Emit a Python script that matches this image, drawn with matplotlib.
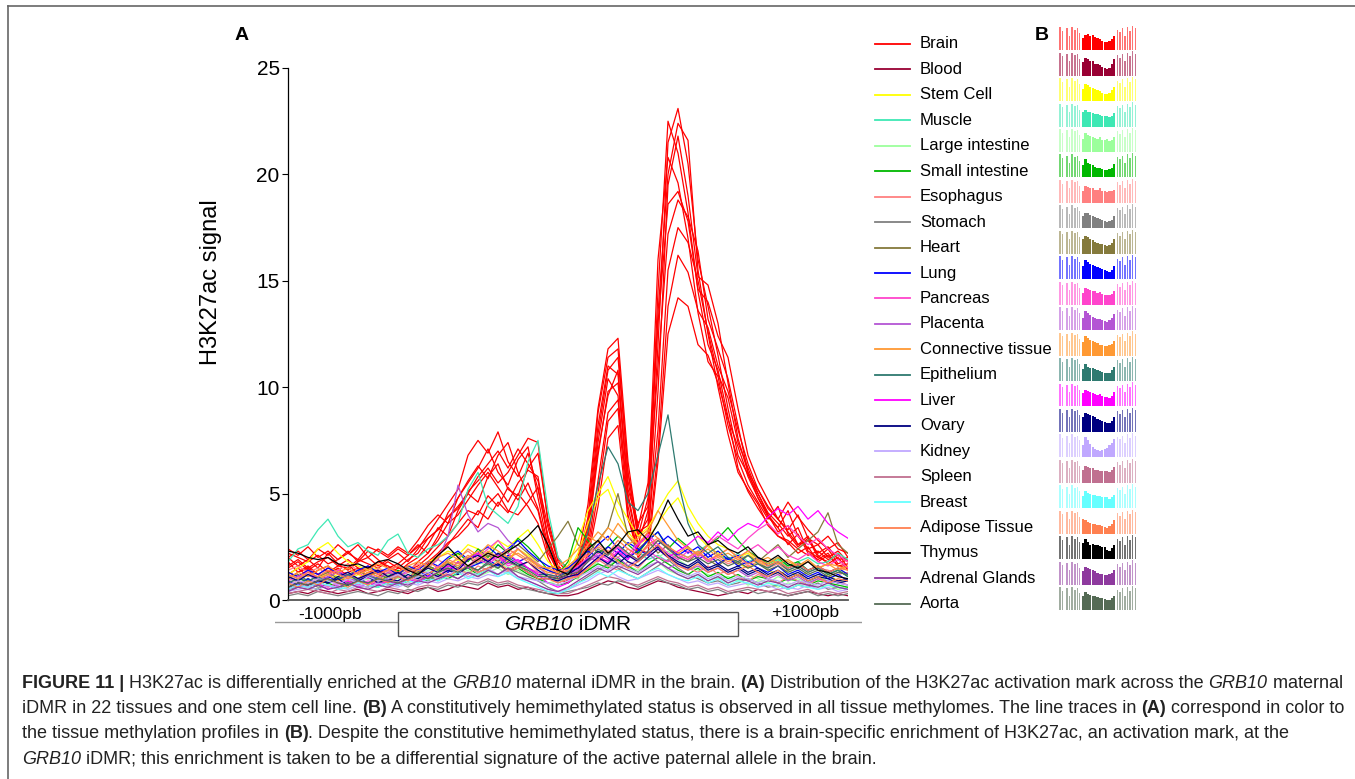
import numpy as np
import matplotlib
matplotlib.use("Agg")
import matplotlib.pyplot as plt
from matplotlib.patches import Rectangle

plt.rcParams['font.family'] = ['Liberation Sans', 'DejaVu Sans']

# ---- H3K27ac traces, one value every 50 bp from -1400 to +1400 ----
positions = np.arange(-1400, 1401, 50)

brain_1 = [2.2, 2.0, 1.8, 2.1, 1.7, 1.9, 2.3, 1.8, 2.0, 1.6,
           1.9, 2.2, 1.8, 2.4, 3.1, 3.8, 4.5, 5.2, 6.8, 7.5,
           6.9, 7.9, 6.5, 5.8, 6.9, 5.2, 3.0, 1.6, 1.2, 2.0,
           4.5, 9.0, 11.8, 12.3, 6.5, 3.2, 3.5, 12.0, 21.5, 23.1,
           20.5, 16.0, 13.8, 11.5, 9.0, 6.8, 5.9, 5.0, 4.0, 3.2,
           3.5, 2.6, 2.8, 2.2, 2.5, 1.9, 2.0]
brain_2 = [2.0, 1.6, 1.9, 1.5, 2.2, 1.7, 1.4, 1.8, 2.3, 1.9,
           1.5, 1.7, 2.1, 2.6, 2.2, 3.0, 4.1, 4.8, 5.5, 6.2,
           7.1, 6.0, 5.4, 6.6, 7.2, 4.8, 2.5, 1.3, 0.9, 1.8,
           3.6, 8.2, 11.0, 10.6, 5.0, 2.6, 4.2, 14.5, 22.5, 21.0,
           18.2, 14.5, 12.0, 10.8, 8.6, 6.2, 5.1, 4.3, 3.6, 3.0,
           2.7, 2.2, 2.5, 1.8, 2.1, 1.6, 1.7]
brain_3 = [1.5, 1.8, 1.4, 1.7, 1.3, 1.6, 1.9, 1.5, 1.4, 1.8,
           1.6, 1.3, 1.7, 2.0, 2.6, 3.4, 3.0, 4.2, 5.0, 4.6,
           5.8, 6.4, 5.2, 4.9, 6.2, 6.9, 3.8, 2.0, 1.4, 1.1,
           2.8, 7.4, 10.4, 9.6, 4.4, 2.2, 2.9, 9.8, 19.5, 21.8,
           19.0, 15.2, 14.8, 13.0, 10.2, 7.6, 6.0, 4.8, 3.9, 3.4,
           4.2, 3.0, 2.4, 2.6, 2.0, 2.3, 1.8]
brain_4 = [1.8, 1.3, 1.6, 1.2, 1.5, 1.4, 1.7, 1.2, 1.5, 1.3,
           1.4, 1.6, 1.3, 1.8, 2.2, 2.8, 3.6, 4.0, 4.7, 5.4,
           6.0, 5.3, 4.6, 5.5, 6.1, 5.8, 2.8, 1.5, 1.0, 1.4,
           3.0, 6.8, 9.8, 10.2, 5.6, 3.0, 4.8, 16.0, 20.8, 19.6,
           17.0, 13.5, 11.2, 10.5, 8.2, 6.6, 5.4, 4.6, 3.8, 4.4,
           3.1, 2.5, 2.9, 2.0, 1.8, 2.2, 1.5]
brain_5 = [1.2, 1.5, 1.1, 1.4, 1.6, 1.2, 1.3, 1.5, 1.1, 1.4,
           1.2, 1.5, 1.4, 1.6, 2.0, 2.5, 3.0, 3.6, 4.2, 4.0,
           4.9, 4.4, 5.3, 4.7, 5.5, 4.3, 2.4, 1.2, 0.9, 1.3,
           2.5, 5.6, 8.8, 9.4, 4.8, 2.5, 3.2, 8.0, 15.5, 17.5,
           16.8, 15.0, 12.6, 10.6, 9.5, 7.4, 6.2, 5.0, 4.1, 3.6,
           3.0, 3.4, 2.3, 2.0, 2.4, 1.7, 1.9]
brain_6 = [1.0, 1.3, 1.5, 1.2, 1.0, 1.4, 1.1, 1.3, 1.6, 1.2,
           1.0, 1.3, 1.5, 1.2, 1.7, 2.1, 2.6, 3.2, 3.8, 3.4,
           4.5, 5.0, 4.2, 4.0, 4.6, 5.3, 2.9, 1.6, 1.1, 1.0,
           2.2, 5.0, 8.4, 9.0, 4.0, 2.0, 2.6, 7.0, 13.8, 16.2,
           15.4, 13.6, 12.8, 11.0, 9.8, 8.0, 6.4, 5.2, 4.4, 3.8,
           3.2, 2.6, 3.0, 2.1, 1.7, 2.0, 1.4]
brain_7 = [2.4, 2.1, 2.5, 2.0, 2.3, 1.9, 2.2, 2.6, 2.0, 2.4,
           2.1, 2.5, 2.2, 2.8, 3.5, 4.0, 3.6, 4.8, 5.6, 6.3,
           5.7, 6.8, 7.4, 6.0, 5.0, 4.2, 2.2, 1.4, 1.2, 1.6,
           3.2, 7.8, 10.8, 11.4, 6.0, 3.4, 5.5, 13.0, 18.6, 19.2,
           17.8, 14.6, 14.0, 12.4, 11.4, 9.0, 6.8, 5.6, 4.7, 3.8,
           3.3, 4.0, 2.9, 2.6, 3.0, 2.4, 2.2]
brain_8 = [1.6, 1.9, 1.5, 1.8, 2.0, 1.6, 1.5, 1.9, 1.7, 1.5,
           1.8, 1.5, 1.9, 2.2, 2.9, 3.3, 3.9, 4.4, 5.0, 5.8,
           6.4, 7.0, 6.2, 7.1, 6.4, 5.6, 3.4, 1.8, 1.3, 1.7,
           3.9, 8.8, 11.4, 11.8, 6.0, 3.0, 3.8, 13.5, 20.0, 22.4,
           21.6, 15.5, 12.5, 10.0, 7.8, 6.0, 5.2, 4.5, 3.5, 3.0,
           2.8, 2.4, 2.1, 2.3, 1.9, 2.1, 1.8]
brain_9 = [1.3, 1.1, 1.4, 1.0, 1.2, 1.5, 1.1, 1.0, 1.3, 1.4,
           1.1, 1.3, 1.0, 1.5, 1.8, 2.2, 2.7, 3.0, 3.5, 4.2,
           3.8, 4.6, 4.1, 5.0, 4.4, 3.6, 2.0, 1.0, 0.8, 1.2,
           2.0, 4.4, 7.6, 8.2, 3.8, 2.4, 2.2, 6.5, 12.5, 14.2,
           13.8, 12.0, 11.5, 10.2, 8.5, 7.2, 5.8, 4.8, 4.0, 3.4,
           2.6, 3.1, 2.2, 1.9, 2.2, 1.6, 1.5]
brain_10 = [2.0, 2.3, 1.9, 2.4, 2.1, 2.6, 2.2, 1.9, 2.5, 2.3,
            2.0, 2.4, 2.1, 2.5, 2.9, 3.3, 3.9, 4.3, 5.1, 5.6,
            6.2, 5.5, 6.0, 6.8, 7.6, 7.4, 3.6, 1.9, 1.5, 1.9,
            3.4, 7.0, 9.6, 10.8, 5.2, 3.6, 4.4, 11.0, 17.2, 18.8,
            18.0, 16.4, 13.2, 11.8, 10.4, 8.2, 6.0, 5.2, 4.3, 3.8,
            4.6, 3.9, 3.3, 2.8, 2.4, 2.7, 2.0]

blood = [0.3, 0.4, 0.3, 0.5, 0.4, 0.3, 0.4, 0.5, 0.3, 0.4,
         0.5, 0.4, 0.3, 0.5, 0.6, 0.4, 0.5, 0.7, 0.6, 0.5,
         0.8, 0.6, 0.7, 0.5, 0.6, 0.4, 0.3, 0.2, 0.2, 0.3,
         0.5, 0.7, 0.9, 0.8, 0.6, 0.5, 0.7, 0.9, 0.8, 0.6,
         0.5, 0.4, 0.3, 0.2, 0.3, 0.4, 0.3, 0.5, 0.4, 0.3,
         0.2, 0.3, 0.4, 0.3, 0.2, 0.3, 0.2]
stem_cell_1 = [1.2, 1.5, 1.8, 2.4, 2.7, 2.2, 1.8, 1.6, 1.4, 1.5,
               1.3, 1.2, 1.6, 1.4, 1.8, 2.0, 2.3, 2.1, 2.6, 2.4,
               2.2, 2.8, 2.5, 2.9, 3.3, 2.6, 1.8, 1.4, 1.6, 2.8,
               4.2, 5.0, 5.8, 4.6, 3.8, 3.0, 3.4, 4.2, 5.0, 5.6,
               4.4, 3.6, 3.0, 2.6, 2.4, 2.0, 2.2, 1.8, 1.6, 1.9,
               1.5, 1.7, 1.4, 1.6, 1.3, 1.5, 1.2]
stem_cell_2 = [0.8, 1.0, 1.2, 1.0, 1.3, 1.1, 0.9, 1.2, 1.0, 1.1,
               0.9, 1.2, 1.0, 1.3, 1.5, 1.4, 1.7, 1.9, 1.6, 2.0,
               1.8, 2.2, 1.9, 2.4, 2.1, 1.7, 1.2, 0.9, 1.3, 2.2,
               3.6, 4.8, 5.2, 4.0, 3.2, 2.6, 2.9, 3.6, 4.3, 4.8,
               3.8, 3.0, 2.5, 2.2, 1.9, 1.7, 1.5, 1.8, 1.4, 1.2,
               1.4, 1.1, 1.3, 1.0, 1.2, 0.9, 1.0]
muscle = [1.8, 2.4, 2.6, 3.3, 3.8, 3.0, 2.5, 2.7, 2.3, 2.1,
          2.8, 3.1, 2.2, 2.0, 2.4, 2.6, 3.0, 3.6, 5.2, 6.0,
          4.4, 4.0, 3.6, 4.4, 6.5, 7.5, 4.2, 2.0, 1.4, 1.8,
          2.4, 2.8, 2.2, 2.6, 2.0, 2.3, 1.9, 2.1, 1.8, 2.2,
          2.0, 2.3, 2.6, 2.1, 1.9, 2.2, 1.8, 2.0, 1.7, 1.9,
          1.6, 1.8, 2.0, 1.7, 1.8, 2.2, 1.9]
large_intestine = [0.9, 1.1, 0.8, 1.0, 1.2, 0.9, 1.1, 0.8, 1.0, 0.9,
                   1.2, 1.0, 1.3, 1.1, 1.4, 1.2, 1.6, 1.3, 1.5, 1.8,
                   1.6, 1.9, 1.5, 1.7, 1.4, 1.2, 1.1, 0.9, 1.0, 1.0,
                   1.4, 1.8, 2.2, 1.9, 1.6, 1.4, 1.7, 2.0, 2.3, 1.9,
                   1.6, 1.4, 1.2, 1.0, 1.1, 0.9, 1.2, 1.0, 0.8, 1.1,
                   0.9, 1.0, 0.8, 1.1, 0.9, 0.8, 1.0]
large_intestine_2 = [0.4, 0.6, 0.5, 0.7, 0.6, 0.8, 0.5, 0.7, 0.6, 0.8,
                     0.7, 0.9, 0.8, 1.0, 0.9, 1.1, 1.0, 1.2, 1.4, 1.1,
                     1.3, 1.5, 1.2, 1.4, 1.1, 0.9, 0.8, 0.9, 1.0, 1.2,
                     1.5, 1.3, 1.6, 1.9, 1.5, 1.3, 1.6, 1.8, 1.4, 1.2,
                     1.0, 1.2, 0.9, 1.1, 0.8, 1.0, 0.7, 0.9, 0.8, 0.6,
                     0.8, 0.7, 0.9, 0.6, 0.7, 0.5, 0.6]
small_intestine = [0.6, 0.8, 1.0, 0.7, 0.9, 1.1, 0.8, 1.0, 1.2, 0.9,
                   1.1, 1.4, 1.0, 1.3, 1.6, 1.4, 1.9, 2.2, 1.8, 2.4,
                   2.0, 2.6, 2.2, 2.9, 2.5, 2.0, 1.4, 1.2, 1.8, 3.4,
                   2.8, 2.2, 2.5, 3.0, 2.6, 2.2, 2.8, 3.2, 2.4, 2.9,
                   2.5, 2.1, 2.6, 2.9, 3.4, 2.8, 2.3, 2.0, 1.7, 2.0,
                   1.6, 1.8, 1.4, 1.6, 1.2, 1.4, 1.1]
small_intestine_2 = [0.5, 0.7, 0.6, 0.5, 0.8, 0.6, 0.7, 0.9, 0.7, 0.6,
                     0.8, 0.7, 0.9, 1.1, 0.9, 1.2, 1.0, 1.3, 1.5, 1.2,
                     1.4, 1.7, 1.3, 1.5, 1.2, 1.0, 0.8, 0.7, 0.8, 1.1,
                     1.4, 1.7, 1.5, 1.9, 1.6, 1.3, 1.7, 2.0, 1.7, 1.4,
                     1.2, 1.5, 1.1, 1.3, 1.0, 1.2, 0.9, 1.1, 1.0, 0.8,
                     1.0, 0.9, 0.7, 0.9, 0.8, 0.7, 0.6]
esophagus = [0.7, 0.9, 0.6, 0.8, 1.0, 0.7, 0.9, 0.6, 0.8, 1.0,
             0.8, 0.7, 1.0, 0.9, 1.2, 1.0, 1.3, 1.5, 1.2, 1.6,
             1.4, 1.7, 1.3, 1.5, 1.8, 1.3, 1.2, 1.0, 1.1, 1.1,
             1.5, 1.9, 1.6, 1.4, 1.8, 1.5, 2.0, 2.4, 2.1, 1.7,
             1.5, 1.3, 1.6, 1.2, 1.4, 1.1, 0.9, 1.2, 1.0, 0.8,
             1.1, 0.9, 0.7, 1.0, 0.8, 0.9, 0.7]
esophagus_2 = [1.4, 1.6, 1.3, 1.5, 1.2, 1.4, 1.7, 1.4, 1.2, 1.5,
               1.3, 1.6, 1.4, 1.7, 1.5, 1.9, 1.6, 2.0, 2.3, 1.9,
               2.2, 1.8, 2.1, 2.4, 2.0, 1.7, 1.4, 1.3, 1.5, 1.8,
               2.2, 2.6, 2.3, 2.0, 2.4, 2.1, 2.5, 2.8, 2.4, 2.1,
               1.9, 2.2, 1.8, 2.0, 1.7, 1.9, 1.6, 1.8, 1.5, 1.7,
               1.4, 1.6, 1.3, 1.5, 1.4, 1.2, 1.3]
stomach = [0.5, 0.6, 0.8, 0.6, 0.7, 0.5, 0.8, 0.7, 0.6, 0.9,
           0.7, 0.8, 0.6, 0.9, 1.1, 0.9, 1.2, 1.0, 1.3, 1.1,
           1.4, 1.2, 1.5, 1.3, 1.1, 0.9, 0.6, 0.4, 0.5, 0.8,
           1.1, 1.4, 1.7, 1.5, 1.2, 1.0, 1.3, 1.6, 1.9, 1.5,
           1.2, 1.0, 0.8, 0.9, 0.7, 0.8, 1.0, 0.8, 0.6, 0.7,
           0.5, 0.7, 0.6, 0.8, 0.5, 0.6, 0.5]
stomach_2 = [0.2, 0.3, 0.2, 0.4, 0.3, 0.2, 0.3, 0.4, 0.3, 0.2,
             0.4, 0.3, 0.5, 0.4, 0.6, 0.5, 0.7, 0.6, 0.8, 0.7,
             0.9, 0.7, 0.8, 0.6, 0.5, 0.4, 0.3, 0.3, 0.4, 0.5,
             0.6, 0.8, 0.7, 0.9, 0.8, 0.6, 0.8, 1.0, 0.8, 0.7,
             0.5, 0.6, 0.4, 0.5, 0.3, 0.4, 0.5, 0.3, 0.4, 0.3,
             0.2, 0.3, 0.4, 0.2, 0.3, 0.2, 0.3]
heart = [1.0, 1.2, 0.9, 1.1, 1.3, 1.0, 1.2, 1.4, 1.1, 1.3,
         1.0, 1.2, 1.5, 1.3, 1.6, 1.4, 1.8, 1.5, 2.0, 1.7,
         2.1, 1.8, 2.3, 2.6, 2.2, 1.8, 2.4, 3.0, 3.7, 2.6,
         2.2, 2.8, 3.4, 5.0, 3.0, 2.4, 2.8, 2.2, 2.6, 2.0,
         1.8, 2.2, 1.9, 1.6, 2.0, 1.7, 2.1, 1.8, 2.2, 2.6,
         2.0, 2.4, 2.8, 3.2, 4.1, 2.6, 2.2]
lung = [0.9, 0.7, 1.0, 0.8, 1.1, 0.9, 1.2, 1.0, 0.8, 1.1,
        0.9, 1.2, 1.0, 1.4, 1.1, 1.6, 1.3, 1.8, 1.5, 1.7,
        1.9, 1.6, 2.1, 1.8, 2.0, 1.6, 1.4, 1.2, 1.3, 1.5,
        2.0, 2.6, 3.0, 2.4, 2.0, 2.3, 2.8, 3.2, 2.5, 2.1,
        2.4, 1.9, 2.2, 1.7, 2.0, 1.6, 1.8, 1.5, 1.3, 1.6,
        1.2, 1.4, 1.1, 1.3, 1.0, 1.2, 0.9]
lung_2 = [1.3, 1.1, 1.4, 1.2, 1.5, 1.3, 1.1, 1.4, 1.6, 1.3,
          1.5, 1.2, 1.6, 1.4, 1.8, 1.6, 2.0, 2.3, 1.9, 2.2,
          2.5, 2.1, 2.4, 2.8, 2.3, 1.9, 1.6, 1.4, 1.5, 1.9,
          2.3, 2.0, 2.5, 2.2, 2.7, 2.4, 2.1, 2.6, 3.0, 2.6,
          2.2, 2.5, 2.0, 2.3, 1.9, 2.1, 1.7, 2.0, 1.6, 1.8,
          1.5, 1.7, 1.4, 1.6, 1.3, 1.5, 1.2]
pancreas = [0.6, 0.8, 0.7, 0.9, 0.6, 0.8, 1.0, 0.7, 0.9, 0.8,
            1.0, 0.8, 1.1, 0.9, 1.3, 1.1, 1.5, 1.2, 1.6, 2.0,
            2.4, 2.8, 2.2, 1.8, 1.5, 1.2, 1.0, 0.9, 1.2, 1.4,
            1.8, 2.2, 1.9, 2.5, 2.1, 2.7, 3.1, 2.6, 2.2, 1.9,
            2.3, 2.0, 2.6, 3.0, 2.7, 2.4, 2.9, 3.3, 3.6, 3.1,
            3.5, 3.0, 2.6, 2.9, 2.4, 2.1, 1.8]
pancreas_2 = [0.9, 1.1, 1.3, 1.0, 1.2, 1.4, 1.1, 1.3, 1.0, 1.2,
              1.4, 1.1, 1.3, 1.5, 1.2, 1.6, 1.4, 1.8, 1.5, 1.9,
              1.7, 2.0, 1.6, 1.8, 1.5, 1.3, 1.2, 1.1, 1.3, 1.6,
              2.0, 1.8, 2.2, 2.5, 2.1, 1.9, 2.3, 2.0, 1.8, 2.1,
              1.9, 2.2, 1.8, 2.1, 2.4, 2.0, 2.3, 2.6, 2.2, 2.5,
              2.1, 1.9, 2.2, 1.8, 1.6, 1.9, 1.5]
placenta = [0.8, 1.0, 1.2, 0.9, 1.1, 1.3, 1.0, 0.9, 1.2, 1.0,
            1.3, 1.1, 1.4, 1.2, 1.6, 1.9, 3.0, 5.4, 4.0, 3.2,
            3.6, 3.4, 2.8, 2.4, 2.0, 1.6, 1.1, 0.8, 1.0, 1.4,
            1.8, 2.1, 1.7, 2.0, 1.6, 1.9, 2.2, 1.8, 1.5, 1.7,
            1.4, 1.6, 1.3, 1.5, 1.2, 1.4, 1.1, 1.3, 1.0, 1.2,
            0.9, 1.1, 0.8, 1.0, 0.9, 0.8, 0.7]
connective_tissue = [0.7, 0.9, 0.8, 1.0, 1.2, 0.9, 1.1, 1.0, 1.3, 1.1,
                     0.9, 1.2, 1.0, 1.4, 1.2, 1.5, 1.8, 1.6, 2.0, 2.3,
                     1.9, 2.2, 1.8, 2.4, 2.0, 1.6, 1.5, 1.3, 1.6, 2.0,
                     2.6, 3.2, 2.8, 3.6, 3.0, 2.6, 3.2, 4.2, 3.5, 2.8,
                     2.4, 2.2, 2.6, 2.1, 2.4, 2.0, 2.3, 1.9, 1.7, 2.0,
                     1.8, 1.6, 1.9, 1.5, 1.7, 1.4, 1.6]
connective_tissue_2 = [1.0, 1.3, 1.1, 1.4, 1.6, 1.3, 1.5, 1.2, 1.4, 1.7,
                       1.5, 1.3, 1.6, 1.8, 1.6, 2.0, 2.2, 1.9, 2.4, 2.1,
                       2.6, 2.3, 2.0, 2.2, 1.9, 1.6, 1.5, 1.6, 1.9, 2.4,
                       3.0, 2.7, 3.4, 3.0, 2.6, 2.9, 3.3, 2.9, 2.5, 2.2,
                       2.5, 2.1, 2.4, 2.0, 2.2, 1.9, 2.1, 1.8, 2.0, 1.7,
                       1.9, 1.6, 1.8, 1.5, 1.7, 1.6, 1.4]
epithelium = [0.8, 1.0, 0.9, 1.1, 0.8, 1.0, 1.2, 0.9, 1.1, 1.0,
              0.8, 1.1, 0.9, 1.2, 1.0, 1.3, 1.5, 1.2, 1.6, 1.4,
              1.8, 1.5, 2.0, 1.7, 1.5, 1.2, 1.2, 1.1, 1.3, 1.8,
              3.2, 5.4, 7.2, 6.4, 4.6, 4.2, 5.0, 6.8, 8.7, 5.6,
              3.6, 2.6, 2.2, 2.5, 2.0, 1.8, 2.1, 1.7, 1.5, 1.8,
              1.4, 1.6, 1.3, 1.5, 1.2, 1.4, 1.1]
liver = [0.5, 0.7, 0.6, 0.8, 0.5, 0.7, 0.9, 0.6, 0.8, 0.7,
         0.9, 0.7, 1.0, 0.8, 1.1, 1.3, 1.6, 1.4, 1.9, 2.2,
         1.8, 2.1, 1.7, 1.9, 1.5, 1.2, 0.8, 0.6, 0.8, 1.2,
         1.6, 2.0, 1.8, 2.3, 1.9, 2.6, 3.0, 2.4, 2.0, 2.3,
         2.6, 3.0, 2.7, 3.2, 2.8, 3.3, 3.6, 3.4, 3.9, 4.3,
         4.0, 4.4, 3.8, 4.2, 3.6, 3.2, 2.9]
ovary = [0.6, 0.8, 0.7, 0.9, 0.8, 1.0, 0.7, 0.9, 1.1, 0.8,
         1.0, 0.9, 1.2, 1.0, 1.3, 1.1, 1.4, 1.2, 1.6, 1.3,
         1.5, 1.7, 1.4, 1.6, 1.3, 1.0, 1.0, 0.9, 1.1, 1.2,
         1.6, 2.0, 1.7, 2.2, 1.8, 1.6, 2.0, 2.4, 2.0, 1.7,
         1.5, 1.8, 1.4, 1.6, 1.3, 1.5, 1.2, 1.4, 1.1, 1.3,
         1.0, 1.2, 0.9, 1.1, 1.0, 0.8, 0.9]
ovary_2 = [1.1, 0.9, 1.2, 1.0, 0.8, 1.1, 1.3, 1.0, 1.2, 1.4,
           1.1, 1.3, 1.0, 1.2, 1.5, 1.3, 1.7, 1.4, 1.9, 2.1,
           1.8, 2.2, 1.9, 1.6, 1.8, 1.4, 1.1, 1.0, 1.2, 1.5,
           1.9, 2.3, 2.0, 1.7, 2.1, 1.8, 2.2, 2.5, 2.1, 1.8,
           1.6, 1.9, 1.5, 1.7, 1.4, 1.6, 1.3, 1.5, 1.2, 1.4,
           1.1, 1.3, 1.0, 1.2, 1.1, 0.9, 1.0]
kidney = [0.4, 0.5, 0.6, 0.5, 0.7, 0.6, 0.5, 0.7, 0.6, 0.8,
          0.7, 0.6, 0.8, 0.7, 0.9, 0.8, 1.0, 0.9, 1.1, 1.0,
          1.2, 1.1, 1.3, 1.0, 0.9, 0.7, 0.5, 0.4, 0.5, 0.7,
          0.9, 1.2, 1.4, 1.1, 0.9, 1.0, 1.2, 1.4, 1.2, 1.0,
          0.8, 0.9, 0.7, 0.8, 0.6, 0.7, 0.8, 0.6, 0.7, 0.5,
          0.6, 0.5, 0.7, 0.5, 0.6, 0.4, 0.5]
kidney_2 = [0.7, 0.9, 0.8, 1.0, 0.9, 0.7, 1.0, 0.8, 1.1, 0.9,
            1.0, 1.2, 0.9, 1.1, 1.3, 1.0, 1.2, 1.4, 1.1, 1.3,
            1.5, 1.2, 1.4, 1.1, 1.0, 0.9, 0.8, 0.7, 0.9, 1.1,
            1.3, 1.6, 1.4, 1.7, 1.5, 1.3, 1.6, 1.8, 1.5, 1.3,
            1.1, 1.3, 1.0, 1.2, 0.9, 1.1, 1.0, 0.8, 1.0, 0.9,
            0.7, 0.9, 0.8, 0.7, 0.9, 0.8, 0.7]
spleen = [0.3, 0.4, 0.5, 0.4, 0.3, 0.5, 0.4, 0.6, 0.5, 0.4,
          0.6, 0.5, 0.4, 0.6, 0.7, 0.6, 0.8, 0.7, 0.9, 0.8,
          1.0, 0.8, 0.9, 0.7, 0.6, 0.5, 0.4, 0.3, 0.3, 0.5,
          0.7, 0.9, 1.1, 1.0, 0.8, 0.7, 0.9, 1.1, 0.9, 0.8,
          0.6, 0.7, 0.5, 0.6, 0.4, 0.5, 0.6, 0.5, 0.4, 0.5,
          0.3, 0.4, 0.5, 0.3, 0.4, 0.3, 0.4]
breast = [0.5, 0.7, 0.6, 0.8, 0.7, 0.5, 0.6, 0.8, 0.7, 0.6,
          0.8, 0.7, 0.9, 0.8, 1.0, 0.9, 1.1, 1.3, 1.0, 1.2,
          1.4, 1.1, 1.3, 1.0, 0.8, 0.6, 0.4, 0.3, 0.5, 0.8,
          1.0, 1.3, 1.1, 1.4, 1.2, 1.0, 1.3, 1.5, 1.2, 1.0,
          0.9, 1.1, 0.8, 1.0, 0.7, 0.9, 0.8, 0.6, 0.8, 0.7,
          0.5, 0.7, 0.6, 0.5, 0.7, 0.6, 0.5]
adipose_tissue = [0.8, 0.6, 0.9, 0.7, 1.0, 0.8, 0.6, 0.9, 0.7, 1.0,
                  0.8, 1.1, 0.9, 1.2, 1.0, 1.3, 1.1, 1.4, 1.6, 1.3,
                  1.5, 1.8, 1.4, 1.6, 1.3, 1.0, 1.0, 0.8, 1.0, 1.1,
                  1.5, 1.9, 2.3, 1.8, 1.5, 1.8, 2.2, 2.6, 2.0, 1.6,
                  1.4, 1.7, 1.3, 1.5, 1.2, 1.4, 1.6, 1.3, 1.1, 1.4,
                  1.0, 1.2, 0.9, 1.1, 0.8, 1.0, 0.9]
adipose_tissue_2 = [1.2, 1.0, 1.3, 1.1, 1.4, 1.2, 1.0, 1.3, 1.5, 1.2,
                    1.4, 1.6, 1.3, 1.5, 1.8, 1.5, 1.9, 1.7, 2.1, 1.8,
                    2.3, 2.0, 2.4, 2.1, 1.8, 1.5, 1.3, 1.2, 1.4, 1.8,
                    2.1, 2.5, 2.2, 2.8, 2.4, 2.1, 2.6, 2.9, 2.5, 2.2,
                    2.0, 2.3, 1.9, 2.1, 1.8, 2.0, 1.7, 1.9, 1.6, 1.8,
                    1.5, 1.7, 1.4, 1.6, 1.3, 1.5, 1.4]
thymus = [2.3, 2.2, 2.0, 1.9, 2.0, 1.7, 1.6, 1.7, 1.5, 1.8,
          1.9, 1.7, 1.4, 1.2, 1.6, 2.1, 2.5, 2.0, 1.6, 1.9,
          2.2, 2.0, 2.3, 2.6, 3.0, 3.5, 2.6, 1.4, 1.2, 1.8,
          2.4, 2.8, 2.2, 2.6, 3.2, 3.3, 2.8, 3.6, 4.7, 3.8,
          3.0, 3.2, 2.6, 2.8, 2.4, 2.2, 2.5, 2.0, 1.8, 2.1,
          1.7, 1.5, 1.8, 1.4, 1.3, 1.1, 1.0]
adrenal_glands = [0.4, 0.6, 0.5, 0.7, 0.5, 0.6, 0.8, 0.6, 0.5, 0.7,
                  0.6, 0.8, 0.7, 0.9, 0.8, 1.0, 1.2, 1.0, 1.3, 1.1,
                  1.4, 1.2, 1.5, 1.1, 0.9, 0.7, 0.5, 0.4, 0.6, 0.9,
                  1.2, 1.5, 1.3, 1.6, 1.4, 1.2, 1.5, 1.8, 1.5, 1.2,
                  1.0, 1.2, 0.9, 1.1, 0.8, 1.0, 0.9, 0.7, 0.9, 0.8,
                  0.6, 0.8, 0.7, 0.6, 0.8, 0.6, 0.5]
aorta = [0.6, 0.8, 0.7, 0.9, 1.0, 0.8, 0.7, 0.9, 0.8, 1.0,
         0.9, 0.8, 1.0, 1.2, 1.0, 1.3, 1.5, 1.3, 1.6, 1.4,
         1.7, 1.5, 1.8, 1.6, 1.4, 1.1, 1.1, 1.0, 1.2, 1.3,
         1.8, 2.4, 2.1, 2.6, 2.2, 1.9, 2.3, 2.8, 2.4, 2.0,
         1.8, 2.0, 1.7, 1.9, 1.6, 1.8, 1.5, 1.7, 1.4, 1.6,
         1.3, 1.5, 1.2, 1.4, 1.1, 1.3, 1.2]

tissues = ["Brain", "Blood", "Stem Cell", "Muscle", "Large intestine",
           "Small intestine", "Esophagus", "Stomach", "Heart", "Lung",
           "Pancreas", "Placenta", "Connective tissue", "Epithelium", "Liver",
           "Ovary", "Kidney", "Spleen", "Breast", "Adipose Tissue",
           "Thymus", "Adrenal Glands", "Aorta"]
colors = ["#ff0000", "#990033", "#ffff00", "#3ee8b4", "#9cff9c",
          "#00b800", "#ff8080", "#808080", "#857a3c", "#0000ff",
          "#ff44cc", "#b455d4", "#ff9933", "#2e7a70", "#ff00ff",
          "#000080", "#c0a8ff", "#c07090", "#66ffff", "#ff8050",
          "#000000", "#8e3a9e", "#556b55"]
tissue_color = dict(zip(tissues, colors))

brain_traces = [brain_1, brain_2, brain_3, brain_4, brain_5,
                brain_6, brain_7, brain_8, brain_9, brain_10]
other_traces = [("Blood", blood), ("Stem Cell", stem_cell_1), ("Stem Cell", stem_cell_2),
                ("Muscle", muscle), ("Large intestine", large_intestine),
                ("Large intestine", large_intestine_2),
                ("Small intestine", small_intestine), ("Small intestine", small_intestine_2),
                ("Esophagus", esophagus), ("Esophagus", esophagus_2),
                ("Stomach", stomach), ("Stomach", stomach_2), ("Heart", heart),
                ("Lung", lung), ("Lung", lung_2),
                ("Pancreas", pancreas), ("Pancreas", pancreas_2), ("Placenta", placenta),
                ("Connective tissue", connective_tissue),
                ("Connective tissue", connective_tissue_2), ("Epithelium", epithelium),
                ("Liver", liver), ("Ovary", ovary), ("Ovary", ovary_2),
                ("Kidney", kidney), ("Kidney", kidney_2),
                ("Spleen", spleen), ("Breast", breast),
                ("Adipose Tissue", adipose_tissue), ("Adipose Tissue", adipose_tissue_2),
                ("Adrenal Glands", adrenal_glands), ("Aorta", aorta), ("Thymus", thymus)]

# ---- methylation profiles (panel B) ----
flank_left_pos = [1.0, 3.5, 8.0, 10.2, 13.0, 16.0, 18.2, 20.6]
flank_left_h = [0.95, 0.8, 0.9, 0.6, 0.95, 0.85, 0.9, 0.7]
flank_right_pos = [58.8, 61.0, 63.5, 66.0, 68.2, 71.0, 73.6, 76.2]
flank_right_h = [0.85, 0.75, 0.9, 0.6, 0.95, 0.8, 1.0, 0.9]
mid_pos = [24.0, 26.4, 28.8, 31.2, 33.6, 36.0, 38.4, 40.8, 43.2, 45.6, 48.0, 50.4, 52.8, 55.2]
meth_profiles = {
    "Brain": [0.5, 0.62, 0.68, 0.6, 0.64, 0.55, 0.5, 0.45, 0.4, 0.35, 0.33, 0.38, 0.45, 0.6],
    "Blood": [0.55, 0.75, 0.7, 0.6, 0.62, 0.5, 0.48, 0.42, 0.35, 0.3, 0.28, 0.32, 0.5, 0.7],
    "Stem Cell": [0.5, 0.72, 0.65, 0.6, 0.55, 0.5, 0.45, 0.4, 0.35, 0.3, 0.3, 0.35, 0.45, 0.6],
    "Muscle": [0.6, 0.7, 0.62, 0.6, 0.55, 0.5, 0.52, 0.48, 0.45, 0.42, 0.44, 0.4, 0.45, 0.55],
    "Large intestine": [0.55, 0.8, 0.7, 0.65, 0.6, 0.58, 0.55, 0.6, 0.5, 0.48, 0.55, 0.45, 0.5, 0.6],
    "Small intestine": [0.5, 0.75, 0.6, 0.55, 0.5, 0.45, 0.4, 0.38, 0.35, 0.32, 0.3, 0.35, 0.4, 0.55],
    "Esophagus": [0.5, 0.7, 0.65, 0.6, 0.6, 0.55, 0.55, 0.6, 0.5, 0.5, 0.45, 0.48, 0.5, 0.55],
    "Stomach": [0.5, 0.65, 0.62, 0.55, 0.5, 0.45, 0.42, 0.4, 0.35, 0.3, 0.28, 0.3, 0.35, 0.5],
    "Heart": [0.6, 0.75, 0.7, 0.6, 0.55, 0.5, 0.45, 0.42, 0.4, 0.35, 0.33, 0.38, 0.45, 0.6],
    "Lung": [0.55, 0.8, 0.72, 0.65, 0.58, 0.55, 0.5, 0.48, 0.42, 0.38, 0.35, 0.3, 0.4, 0.55],
    "Pancreas": [0.5, 0.7, 0.65, 0.6, 0.55, 0.55, 0.5, 0.52, 0.45, 0.42, 0.4, 0.42, 0.45, 0.55],
    "Placenta": [0.5, 0.78, 0.7, 0.62, 0.55, 0.52, 0.48, 0.45, 0.4, 0.36, 0.35, 0.4, 0.5, 0.65],
    "Connective tissue": [0.55, 0.8, 0.72, 0.66, 0.6, 0.55, 0.5, 0.45, 0.42, 0.4, 0.38, 0.42, 0.48, 0.6],
    "Epithelium": [0.5, 0.7, 0.6, 0.55, 0.55, 0.5, 0.45, 0.4, 0.38, 0.35, 0.33, 0.35, 0.45, 0.6],
    "Liver": [0.55, 0.7, 0.62, 0.58, 0.55, 0.5, 0.48, 0.52, 0.45, 0.4, 0.38, 0.35, 0.45, 0.6],
    "Ovary": [0.6, 0.8, 0.75, 0.7, 0.65, 0.6, 0.55, 0.5, 0.45, 0.4, 0.38, 0.35, 0.45, 0.6],
    "Kidney": [0.5, 0.85, 0.7, 0.55, 0.45, 0.35, 0.3, 0.28, 0.3, 0.35, 0.4, 0.5, 0.6, 0.75],
    "Spleen": [0.55, 0.7, 0.65, 0.6, 0.6, 0.55, 0.55, 0.5, 0.5, 0.48, 0.5, 0.45, 0.55, 0.65],
    "Breast": [0.5, 0.72, 0.65, 0.6, 0.55, 0.55, 0.5, 0.5, 0.48, 0.45, 0.45, 0.4, 0.45, 0.55],
    "Adipose Tissue": [0.6, 0.55, 0.5, 0.45, 0.42, 0.4, 0.38, 0.35, 0.3, 0.28, 0.25, 0.3, 0.4, 0.55],
    "Thymus": [0.65, 0.85, 0.7, 0.6, 0.62, 0.58, 0.6, 0.55, 0.5, 0.52, 0.4, 0.35, 0.45, 0.6],
    "Adrenal Glands": [0.55, 0.75, 0.7, 0.65, 0.6, 0.55, 0.5, 0.45, 0.42, 0.4, 0.38, 0.42, 0.5, 0.6],
    "Aorta": [0.6, 0.75, 0.68, 0.62, 0.6, 0.58, 0.55, 0.5, 0.52, 0.45, 0.42, 0.4, 0.5, 0.6],
}

idmr = (-850, 850)

for tr in brain_traces + [t for _, t in other_traces]:
    assert len(tr) == len(positions), len(tr)

# ---- layout helpers (pixel boxes) ----
W, H = 1355, 779
fig = plt.figure(figsize=(W / 100, H / 100), dpi=100)


def px_box(left, top, right, bottom):
    return [left / W, 1 - bottom / H, (right - left) / W, (bottom - top) / H]


# ---- panel A ----
ax = fig.add_axes(px_box(288, 68, 848, 600))
for tr in brain_traces:
    ax.plot(positions, tr, color=tissue_color["Brain"], lw=0.9)
for name, tr in other_traces:
    ax.plot(positions, tr, color=tissue_color[name], lw=0.9)

ax.set_xlim(positions[0], positions[-1])
ax.set_ylim(0, 25)
ax.set_yticks([0, 5, 10, 15, 20, 25])
ax.set_xticks([])
ax.tick_params(axis='y', direction='out', length=4, width=0.8, labelsize=15, pad=2)
for s in ("top", "right"):
    ax.spines[s].set_visible(False)
ax.spines["left"].set_linewidth(0.9)
ax.spines["bottom"].set_color("#555555")
ax.spines["bottom"].set_linewidth(1.3)
fig.text(211 / W, 1 - 282 / H, "H3K27ac signal", fontsize=17, rotation=90,
         ha="center", va="center")
fig.text(242 / W, 1 - 35 / H, "A", fontsize=14, fontweight="bold", ha="center", va="center")

# region annotation under the axis
bp_per_px = (positions[-1] - positions[0]) / (848 - 288)
ann = fig.add_axes(px_box(275, 604, 862, 640))
ann.set_xlim(positions[0] - 13 * bp_per_px, positions[-1] + 14 * bp_per_px)
ann.set_ylim(640, 604)
ann.axis("off")
ann.axhline(622, color="#999999", lw=1.0)
ann.add_patch(Rectangle((idmr[0], 612), idmr[1] - idmr[0], 24,
                        facecolor="white", edgecolor="#555555", lw=1.0, zorder=3))
ann.text(-1190, 614, "-1000pb", fontsize=12.5, ha="center", va="center")
ann.text(1185, 613, "+1000pb", fontsize=12.5, ha="center", va="center")

fig.canvas.draw()
renderer = fig.canvas.get_renderer()


def draw_runs(x0, y, runs, size, color="#222222", center=False):
    pieces = []
    for txt, weight, style in runs:
        t = fig.text(0, y, txt, fontsize=size, fontweight=weight, fontstyle=style,
                     color=color, va="center", ha="left", zorder=5)
        pieces.append((t, t.get_window_extent(renderer).width / W))
    total = sum(w for _, w in pieces)
    x = x0 - total / 2 if center else x0
    for t, w in pieces:
        t.set_x(x)
        x += w


draw_runs(568 / W, 1 - 625 / H, [("GRB10", "normal", "italic"), (" iDMR", "normal", "normal")],
          15, color="black", center=True)

# ---- legend ----
row0, pitch = 44.0, 25.45
key = fig.add_axes(px_box(865, row0 - pitch / 2, 1055, row0 + pitch * 22.5))
key.set_xlim(865, 1055)
key.set_ylim(len(tissues), 0)
key.axis("off")
for k, name in enumerate(tissues):
    key.plot([875, 910], [k + 0.5, k + 0.5], color=tissue_color[name], lw=1.3)
    key.text(920, k + 0.5, name, fontsize=12, va="center", ha="left")

# ---- panel B ----
fig.text(1042 / W, 1 - 35 / H, "B", fontsize=14, fontweight="bold", ha="center", va="center")
pb = fig.add_axes(px_box(1059, 25.5, 1138, 25.5 + pitch * 23))
pb.set_xlim(0, 79)
pb.set_ylim(0, len(tissues))
pb.axis("off")
for k, name in enumerate(tissues):
    base = len(tissues) - 1 - k + 0.03
    c = tissue_color[name]
    pb.bar(flank_left_pos, np.array(flank_left_h) * 0.95, bottom=base, width=1.2,
           color=c, alpha=0.55, linewidth=0)
    pb.bar(flank_right_pos, np.array(flank_right_h) * 0.95, bottom=base, width=1.2,
           color=c, alpha=0.55, linewidth=0)
    pb.bar(mid_pos, np.array(meth_profiles[name]) * 0.95, bottom=base, width=2.2,
           color=c, linewidth=0)

# ---- caption ----
N, B, I = ("normal", "normal"), ("bold", "normal"), ("normal", "italic")
cap_lines = [
    [("FIGURE 11 |",) + B, (" H3K27ac is differentially enriched at the ",) + N, ("GRB10",) + I,
     (" maternal iDMR in the brain. ",) + N, ("(A)",) + B,
     (" Distribution of the H3K27ac activation mark across the ",) + N, ("GRB10",) + I,
     (" maternal",) + N],
    [("iDMR in 22 tissues and one stem cell line. ",) + N, ("(B)",) + B,
     (" A constitutively hemimethylated status is observed in all tissue methylomes. The line traces in ",) + N,
     ("(A)",) + B, (" correspond in color to",) + N],
    [("the tissue methylation profiles in ",) + N, ("(B)",) + B,
     (". Despite the constitutive hemimethylated status, there is a brain-specific enrichment of H3K27ac, an activation mark, at the",) + N],
    [("GRB10",) + I,
     (" iDMR; this enrichment is taken to be a differential signature of the active paternal allele in the brain.",) + N],
]
for j, runs in enumerate(cap_lines):
    draw_runs(22 / W, 1 - (683 + 25.5 * j) / H, runs, 13.0)

# page frame
fig.add_artist(plt.Line2D([8 / W, 8 / W], [0, 1 - 6 / H], color="#666666", lw=1.2))
fig.add_artist(plt.Line2D([8 / W, 1], [1 - 6 / H, 1 - 6 / H], color="#666666", lw=1.2))

fig.savefig("out.png", dpi=100)
